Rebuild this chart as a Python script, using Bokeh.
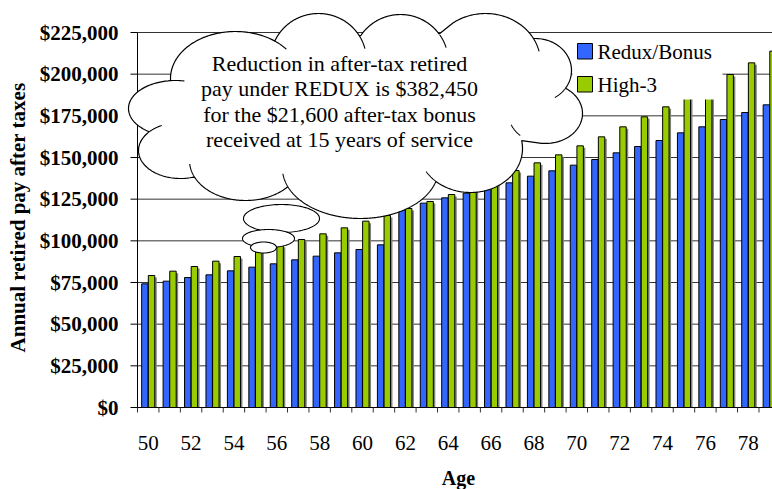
import numpy as np
from bokeh.plotting import figure
from bokeh.models import (ColumnDataSource, Range1d, PolyAnnotation, BoxAnnotation, Label)
from bokeh.transform import dodge
from bokeh.embed import file_html
from bokeh.resources import INLINE

# ---------------- data ----------------
ages = list(range(50, 80))
redux_bonus = [74200, 75800, 78000, 79600, 82000, 84200, 86200, 88600, 90800, 92800,
               94800, 97600, 118600, 122600, 125800, 128600, 131400, 134800, 138800, 142000,
               145400, 148800, 152800, 156600, 160200, 164800, 168400, 172800, 177000, 181600]
high_3 = [79200, 81800, 84600, 87800, 90600, 93900, 97300, 100800, 104200, 107800,
          111800, 115200, 119400, 123600, 127800, 132200, 137000, 142200, 146800, 151600,
          157000, 162400, 168400, 174400, 180400, 186600, 193000, 199800, 206800, 213800]
series_names = ["Redux/Bonus", "High-3"]
y_ticks = list(range(0, 225001, 25000))
y_tick_labels = ["$0", "$25,000", "$50,000", "$75,000", "$100,000", "$125,000",
                 "$150,000", "$175,000", "$200,000", "$225,000"]
x_ticks = list(range(50, 80, 2))
x_tick_labels = [str(a) for a in x_ticks]
x_label = "Age"
y_label = "Annual retired pay after taxes"
cloud_text = ("Reduction in after-tax retired\n"
              "pay under REDUX is $382,450\n"
              "for the $21,600 after-tax bonus\n"
              "received at 15 years of service")

# ---------------- layout (plot area = whole canvas; axes drawn on the scales) ----------------
W, H = 772, 489
AX_L, AX_T, AX_B = 137, 32, 407          # pixel position of the value axes
CW = 21.43                               # pixels per age
X0 = 49.5                                # left edge of the first age slot
Y1 = 225000
YPP = Y1 / (AX_B - AX_T)                 # dollars per pixel

def px2x(px):
    return X0 + (np.asarray(px, dtype=float) - AX_L) / CW

def py2y(py):
    return (AX_B - np.asarray(py, dtype=float)) * YPP

X_LEFT, X_RIGHT = float(px2x(0)), float(px2x(W))
Y_BOTTOM, Y_TOP = float(py2y(H)), float(py2y(0))

SERIF = "Liberation Serif"
BLUE, GREEN = "#3366FF", "#99CC00"

p = figure(width=W, height=H, x_range=Range1d(X_LEFT, X_RIGHT),
           y_range=Range1d(Y_BOTTOM, Y_TOP), x_axis_location=None, y_axis_location=None,
           output_backend="svg", toolbar_location=None, min_border=0)
p.outline_line_color = None
p.background_fill_color = "white"
p.border_fill_color = "white"
for g in p.grid:
    g.visible = False

# horizontal gridlines
p.segment(x0=[X0] * len(y_ticks), x1=[X_RIGHT] * len(y_ticks), y0=y_ticks, y1=y_ticks,
          line_color="#333333", line_width=1, level="underlay")

# bars (with a soft drop shadow)
BW, OFF = 0.30, 0.155
sd_x, sd_y = 2.0 / CW, 2.0 * YPP
src = ColumnDataSource(dict(age=ages, redux=redux_bonus, high3=high_3,
                            redux_sh=[v - sd_y for v in redux_bonus],
                            high3_sh=[v - sd_y for v in high_3]))
p.vbar(x=dodge("age", -OFF + sd_x, range=p.x_range), top="redux_sh", width=BW, source=src,
       fill_color="#808080", line_color=None)
p.vbar(x=dodge("age", OFF + sd_x, range=p.x_range), top="high3_sh", width=BW, source=src,
       fill_color="#808080", line_color=None)
p.vbar(x=dodge("age", -OFF, range=p.x_range), top="redux", width=BW, source=src,
       fill_color=BLUE, line_color="black", line_width=1)
p.vbar(x=dodge("age", OFF, range=p.x_range), top="high3", width=BW, source=src,
       fill_color=GREEN, line_color="black", line_width=1)

# axis lines and ticks
bounds = [a - 0.5 for a in ages] + [ages[-1] + 0.5]
p.segment(x0=[X0], x1=[X_RIGHT], y0=[0], y1=[0], line_color="black", line_width=1)
p.segment(x0=[X0], x1=[X0], y0=[0], y1=[Y1], line_color="black", line_width=1)
p.segment(x0=bounds, x1=bounds, y0=[0] * len(bounds), y1=[-5 * YPP] * len(bounds),
          line_color="#333333", line_width=1)
p.segment(x0=[X0 - 7 / CW] * len(y_ticks), x1=[X0] * len(y_ticks), y0=y_ticks, y1=y_ticks,
          line_color="black", line_width=1)

# tick labels and axis titles
for t, s in zip(x_ticks, x_tick_labels):
    p.add_layout(Label(x=t, y=float(py2y(442)), text=s, text_align="center",
                       text_baseline="middle", text_font=SERIF, text_font_size="21px",
                       text_color="black"))
for t, s in zip(y_ticks, y_tick_labels):
    p.add_layout(Label(x=float(px2x(118)), y=t, text=s, text_align="right",
                       text_baseline="middle", text_font=SERIF, text_font_style="bold",
                       text_font_size="21px", text_color="black"))
p.add_layout(Label(x=float(px2x(458)), y=float(py2y(477)), text=x_label,
                   text_align="center", text_baseline="middle", text_font=SERIF,
                   text_font_style="bold", text_font_size="20px", text_color="black"))
p.add_layout(Label(x=float(px2x(17.5)), y=float(py2y(217)), text=y_label, angle=np.pi / 2,
                   text_align="center", text_baseline="middle", text_font=SERIF,
                   text_font_style="bold", text_font_size="21px", text_color="black"))

# legend (white box, swatches, serif labels)
p.add_layout(BoxAnnotation(left=float(px2x(572)), right=float(px2x(722)),
                           top=float(py2y(34)), bottom=float(py2y(99)),
                           fill_color="white", fill_alpha=1.0, line_alpha=0.0))
for k, (name, col) in enumerate(zip(series_names, [BLUE, GREEN])):
    top_px = 43 + 33 * k
    p.add_layout(BoxAnnotation(left=float(px2x(577)), right=float(px2x(592)),
                               top=float(py2y(top_px)), bottom=float(py2y(top_px + 15.5)),
                               fill_color=col, fill_alpha=1.0,
                               line_color="black", line_alpha=1.0, line_width=1))
    p.add_layout(Label(x=float(px2x(597)), y=float(py2y(top_px + 8)), text=name,
                       text_align="left", text_baseline="middle", text_font=SERIF,
                       text_font_size="21px", text_color="black"))

# ---------------- thought cloud (pixel design -> data coords) ----------------
lobes = [
    (235, 78, 65, 47),
    (318, 60, 48, 47),
    (400, 62, 48, 48),
    (485, 62, 55, 49),
    (535, 70, 36, 32),
    (545, 113, 37, 30),
    (470, 148, 52, 44),
    (360, 168, 78, 50),
    (245, 160, 56, 40),
    (180, 150, 42, 28),
    (175, 108, 47, 28),
]
core = (350, 110, 170, 75)
shapes = lobes + [core]
C = np.array([350.0, 110.0])
theta = np.linspace(0, 2 * np.pi, 1440, endpoint=False)
dx, dy = np.cos(theta), np.sin(theta)
R = np.zeros_like(theta)
for (ex, ey, rx, ry) in shapes:
    ox, oy = (C[0] - ex) / rx, (C[1] - ey) / ry
    ux, uy = dx / rx, dy / ry
    a = ux ** 2 + uy ** 2
    b = 2 * (ox * ux + oy * uy)
    c = ox ** 2 + oy ** 2 - 1
    disc = b * b - 4 * a * c
    t = np.where(disc >= 0, (-b + np.sqrt(np.maximum(disc, 0))) / (2 * a), 0)
    R = np.maximum(R, t)
bx, by = C[0] + R * dx, C[1] + R * dy
p.add_layout(PolyAnnotation(xs=list(px2x(bx)), ys=list(py2y(by)),
                            fill_color="white", fill_alpha=1.0,
                            line_color="black", line_alpha=1.0, line_width=1.2))

# creases: continue each lobe's outer arc a little inside the cloud
N = 720
phi = np.linspace(0, 2 * np.pi, N, endpoint=False)
cx_list, cy_list = [], []
for i, (ex, ey, rx, ry) in enumerate(lobes):
    X = ex + rx * np.cos(phi)
    Y = ey + ry * np.sin(phi)
    vis = np.ones(N, dtype=bool)
    for j, (fx, fy, sx, sy) in enumerate(shapes):
        if j == i:
            continue
        vis &= ((X - fx) / sx) ** 2 + ((Y - fy) / sy) ** 2 >= 1.0
    if vis.all() or not vis.any():
        continue
    s0 = int(np.argmin(vis))
    v = np.roll(vis, -s0)
    best_len, best_end, run = 0, None, 0
    for k in range(N):
        if v[k]:
            run += 1
            if run > best_len:
                best_len, best_end = run, k
        else:
            run = 0
    end = (best_end + s0) % N
    pts_x, pts_y, length, k = [X[end]], [Y[end]], 0.0, end
    while length < 14 and len(pts_x) < N:
        k2 = (k + 1) % N
        length += np.hypot(X[k2] - X[k], Y[k2] - Y[k])
        pts_x.append(X[k2]); pts_y.append(Y[k2])
        k = k2
    cx_list.append(list(px2x(pts_x)))
    cy_list.append(list(py2y(pts_y)))
p.multi_line(xs=cx_list, ys=cy_list, line_color="black", line_width=1.1, level="overlay")

# small thought bubbles
bubbles = [(281, 218, 38, 14), (268, 238, 26, 9), (263, 247, 13, 5.5)]
tt = np.linspace(0, 2 * np.pi, 120, endpoint=False)
for (ex, ey, rx, ry) in bubbles:
    p.add_layout(PolyAnnotation(xs=list(px2x(ex + rx * np.cos(tt))),
                                ys=list(py2y(ey + ry * np.sin(tt))),
                                fill_color="white", fill_alpha=1.0,
                                line_color="black", line_alpha=1.0, line_width=1.1))

p.add_layout(Label(x=float(px2x(339)), y=float(py2y(101)), text=cloud_text,
                   text_align="center", text_baseline="middle",
                   text_font=SERIF, text_font_size="22px", text_line_height=1.02,
                   text_color="black"))

open("out.html", "w").write(file_html(p, INLINE, title="REDUX vs High-3"))
